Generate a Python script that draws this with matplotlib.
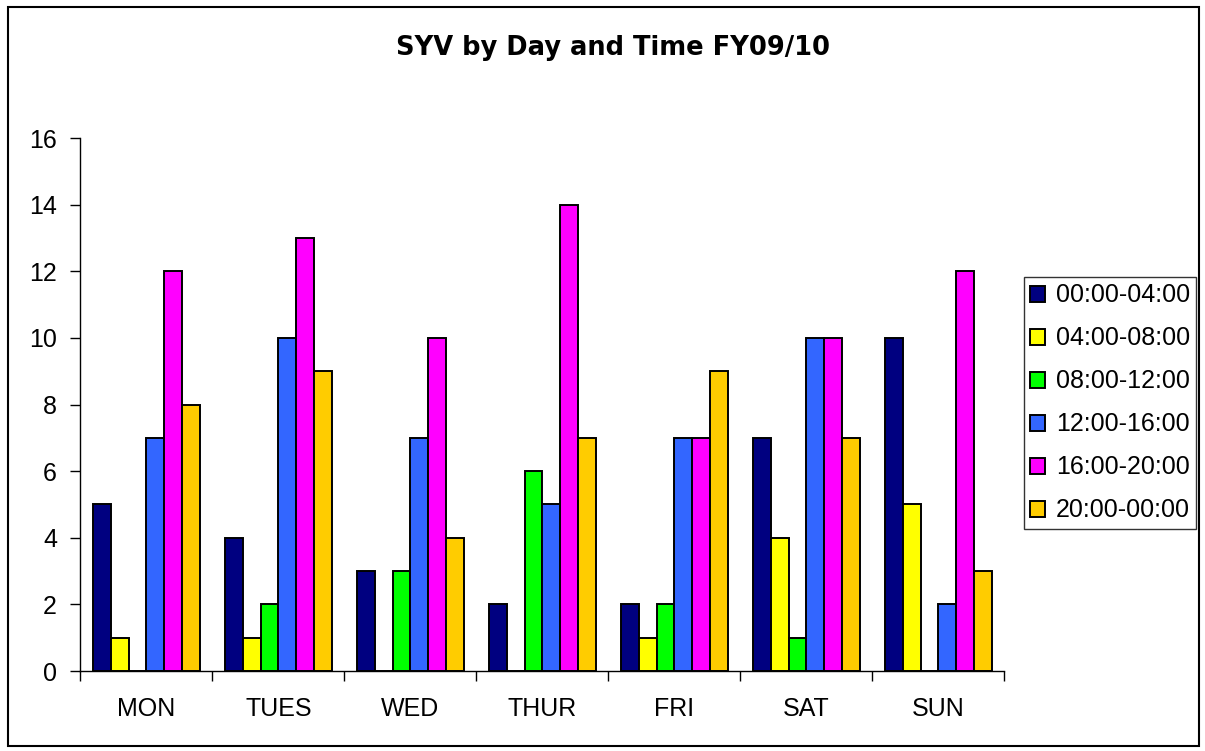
import numpy as np
import matplotlib.pyplot as plt
from matplotlib.patches import Rectangle

days = ['MON', 'TUES', 'WED', 'THUR', 'FRI', 'SAT', 'SUN']
slots = ['00:00-04:00', '04:00-08:00', '08:00-12:00',
         '12:00-16:00', '16:00-20:00', '20:00-00:00']
s0004 = [5, 4, 3, 2, 2, 7, 10]
s0408 = [1, 1, 0, 0, 1, 4, 5]
s0812 = [0, 2, 3, 6, 2, 1, 0]
s1216 = [7, 10, 7, 5, 7, 10, 2]
s1620 = [12, 13, 10, 14, 7, 10, 12]
s2000 = [8, 9, 4, 7, 9, 7, 3]
colors = ['#000080', '#FFFF00', '#00FF00', '#3366FF', '#FF00FF', '#FFCC00']

plt.rcParams['font.family'] = ['Liberation Sans', 'DejaVu Sans']

fig = plt.figure(figsize=(12.05, 7.51), dpi=100)
ax = fig.add_axes([0.0668, 0.1065, 0.7668, 0.7097])

series = [s0004, s0408, s0812, s1216, s1620, s2000]
x = np.arange(len(days))
w = 0.134
for i, (vals, lab, c) in enumerate(zip(series, slots, colors)):
    ax.bar(x + (i - 2.5) * w, vals, width=w, color=c, edgecolor='black',
           linewidth=1.4, label=lab)

ax.set_xlim(-0.5, len(days) - 0.5)
ax.set_ylim(0, 16)
ax.set_yticks(range(0, 17, 2))
ax.set_xticks(x)
ax.set_xticklabels(days)
ax.set_xticks(np.arange(-0.5, len(days)), minor=True)
ax.tick_params(axis='x', which='major', length=0, pad=19, labelsize=18)
ax.tick_params(axis='x', which='minor', length=7, width=1, direction='out')
ax.tick_params(axis='y', length=7, width=1, direction='out', pad=10, labelsize=18)
for s in ['top', 'right']:
    ax.spines[s].set_visible(False)
for s in ['left', 'bottom']:
    ax.spines[s].set_linewidth(1)

fig.text(0.5085, 0.936, 'SYV by Day and Time FY09/10', ha='center', va='center',
         fontsize=18.5, fontweight='bold', family=['DejaVu Sans'])

leg = fig.legend(loc='center left', bbox_to_anchor=(0.8498, 0.4634), fontsize=18,
                 frameon=True, fancybox=False, edgecolor='black',
                 handlelength=0.6, handleheight=0.6, handletextpad=0.42,
                 labelspacing=0.76, borderpad=0.25, borderaxespad=0)
leg.get_frame().set_linewidth(1)

fig.patches.append(Rectangle((0.0066, 0.007), 0.9885, 0.984, transform=fig.transFigure,
                             fill=False, edgecolor='black', linewidth=1.5))

fig.savefig('out.png', dpi=100)
